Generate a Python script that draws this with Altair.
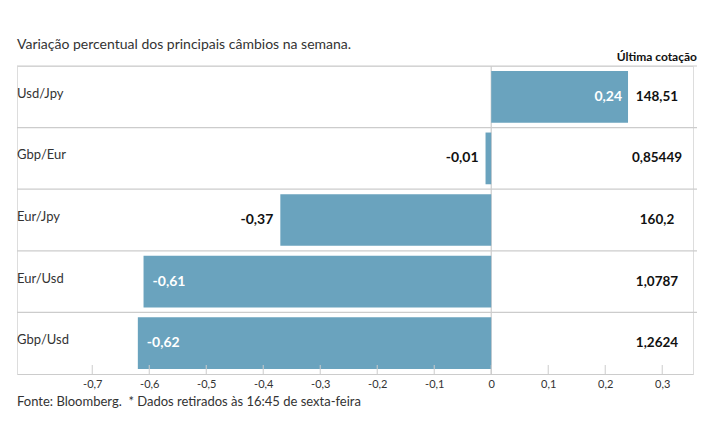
import altair as alt
import pandas as pd

pairs = ["Usd/Jpy", "Gbp/Eur", "Eur/Jpy", "Eur/Usd", "Gbp/Usd"]
changes = [0.24, -0.01, -0.37, -0.61, -0.62]
quotes = ["148,51", "0,85449", "160,2", "1,0787", "1,2624"]
tick_values = [-0.7, -0.6, -0.5, -0.4, -0.3, -0.2, -0.1, 0, 0.1, 0.2, 0.3]

title_text = "Variação percentual dos principais câmbios na semana."
quote_header = "Última cotação"
footer_text = "Fonte: Bloomberg.\u00a0 * Dados retirados às 16:45 de sexta-feira"

FONT = "Lato"
W, H = 676, 308
BAR = "#6aa3be"
GRID = "#cccccc"
TXT = "#333333"

df = pd.DataFrame({"pair": pairs, "change": changes, "quote": quotes})
df["inside"] = (df["change"] > 0) | (df["change"] < -0.5)
ticks_df = pd.DataFrame({"t": tick_values})
zero_df = pd.DataFrame({"z": [0]})

xscale = alt.Scale(domain=[-0.832, 0.354], nice=False, zero=False)
yscale = alt.Scale(domain=pairs, paddingInner=0, paddingOuter=0)

base = alt.Chart(df)

label_expr = "datum.value == 0 ? '0' : replace(replace(format(datum.value, '.1f'), '.', ','), '\u2212', '-')"

bars = base.mark_bar(color=BAR, height=alt.RelativeBandSize(0.84)).encode(
    x=alt.X("change:Q", scale=xscale,
            axis=alt.Axis(values=tick_values, labelExpr=label_expr, title=None,
                          grid=False, ticks=False, domainColor=GRID,
                          labelFont=FONT, labelFontSize=11, labelColor=TXT,
                          labelPadding=4)),
    x2=alt.datum(0),
    y=alt.Y("pair:N", scale=yscale, axis=None),
)

seps = base.mark_rule(color=GRID, strokeWidth=1.2).encode(
    y=alt.Y("pair:N", scale=yscale, axis=None, bandPosition=0),
    x=alt.value(0),
    x2=alt.value(W + 4),
)

zero_rule = alt.Chart(zero_df).mark_rule(color=GRID, strokeWidth=1.2).encode(
    x=alt.X("z:Q", scale=xscale),
    y=alt.value(0),
    y2=alt.value(H),
)

tick_marks = alt.Chart(ticks_df).mark_rule(color=GRID, strokeWidth=1).encode(
    x=alt.X("t:Q", scale=xscale),
    y=alt.value(H - 9),
    y2=alt.value(H),
)

txt_calc = "replace(replace(format(datum.change, '.2f'), '.', ','), '\u2212', '-')"

pos_inside = base.transform_filter("datum.inside && datum.change > 0").transform_calculate(
    lab=txt_calc
).mark_text(align="right", dx=-6, font=FONT, fontSize=14, fontWeight="bold", color="white").encode(
    x=alt.X("change:Q", scale=xscale), y=alt.Y("pair:N", scale=yscale, axis=None), text="lab:N")

neg_inside = base.transform_filter("datum.inside && datum.change < 0").transform_calculate(
    lab=txt_calc
).mark_text(align="left", dx=9, font=FONT, fontSize=14, fontWeight="bold", color="white").encode(
    x=alt.X("change:Q", scale=xscale), y=alt.Y("pair:N", scale=yscale, axis=None), text="lab:N")

neg_outside = base.transform_filter("!datum.inside").transform_calculate(
    lab=txt_calc
).mark_text(align="right", dx=-7, font=FONT, fontSize=14, fontWeight="bold", color="#111111").encode(
    x=alt.X("change:Q", scale=xscale), y=alt.Y("pair:N", scale=yscale, axis=None), text="lab:N")

cat_labels = base.mark_text(align="left", dy=-3, font=FONT, fontSize=13, color=TXT).encode(
    x=alt.value(0), y=alt.Y("pair:N", scale=yscale, axis=None), text="pair:N")

quote_labels = base.mark_text(align="center", font=FONT, fontSize=13.5, fontWeight="bold", color="#111111").encode(
    x=alt.value(640), y=alt.Y("pair:N", scale=yscale, axis=None), text="quote:N")

title = alt.Chart(pd.DataFrame({"s": [title_text]})).mark_text(
    align="left", baseline="middle", font=FONT, fontSize=14, color=TXT).encode(
    x=alt.value(0), y=alt.value(-21), text="s:N")

header = alt.Chart(pd.DataFrame({"s": [quote_header]})).mark_text(
    align="right", baseline="middle", font=FONT, fontSize=12, fontWeight="bold", color="#111111").encode(
    x=alt.value(W + 4), y=alt.value(-9), text="s:N")

footer = alt.Chart(pd.DataFrame({"s": [footer_text]})).mark_text(
    align="left", baseline="middle", font=FONT, fontSize=13, color=TXT).encode(
    x=alt.value(0), y=alt.value(H + 28), text="s:N")

chart = alt.layer(
    seps, zero_rule, bars, tick_marks, pos_inside, neg_inside, neg_outside,
    cat_labels, quote_labels, title, header, footer
).properties(
    width=W, height=H,
    autosize=alt.AutoSizeParams(type="none"),
    padding={"left": 9, "top": 58, "right": 8, "bottom": 50},
).configure_view(stroke=None).configure(background="white")

chart.save("out.html", embed_options={"renderer": "svg", "actions": False})
